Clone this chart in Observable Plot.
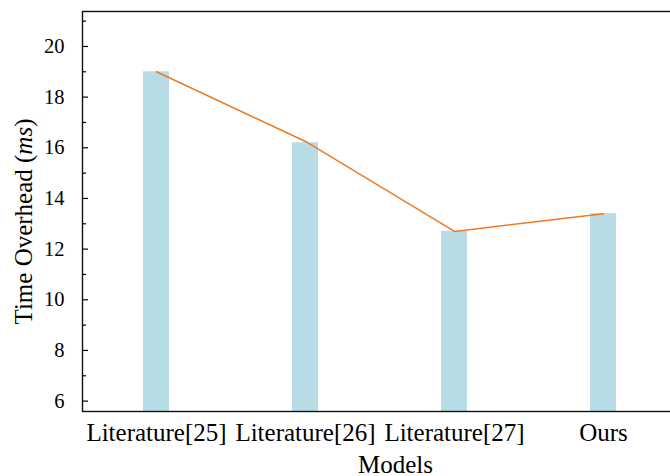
<!DOCTYPE html>
<html>
<head>
<meta charset="utf-8">
<script src="https://cdn.jsdelivr.net/npm/d3@7"></script>
<script src="https://cdn.jsdelivr.net/npm/@observablehq/plot@0.6"></script>
<style>
  html, body { margin: 0; padding: 0; background: #fff; }
</style>
</head>
<body>
<div id="chart"></div>
<script>
const models = ["Literature[25]", "Literature[26]", "Literature[27]", "Ours"];
const barValues = [19.0, 16.2, 12.7, 13.4];
const lineValues = [19.0, 16.25, 12.7, 13.4];
const majorTicks = [6, 8, 10, 12, 14, 16, 18, 20];
const minorTicks = [7, 9, 11, 13, 15, 17, 19, 21];
const yTitle = "Time Overhead (ms)";
const xTitle = "Models";

const bars = models.map((m, i) => ({model: m, value: barValues[i]}));
const linePts = models.map((m, i) => ({model: m, value: lineValues[i]}));

const chart = Plot.plot({
  width: 670,
  height: 476,
  marginLeft: 82,
  marginRight: -8,
  marginTop: 11,
  marginBottom: 65,
  style: {fontFamily: "'Liberation Serif', 'Times New Roman', serif", fontSize: "24px", background: "#fff", color: "#000"},
  x: {type: "band", domain: models, paddingInner: 0.825, paddingOuter: 0.41, align: 0.5, label: null},
  y: {domain: [5.59, 21.38], nice: false, label: null},
  marks: [
    Plot.barY(bars, {x: "model", y: "value", fill: "#b7dce6", clip: true}),
    Plot.line(linePts, {x: "model", y: "value", stroke: "#ef7a1f", strokeWidth: 1.5}),
    Plot.frame({stroke: "#111", strokeWidth: 1.4}),
    Plot.axisY(majorTicks, {anchor: "left", tickSize: -6, tickPadding: 24, fontSize: 20.5, stroke: "#000", strokeWidth: 1.2, fill: "#000"}),
    Plot.axisY(minorTicks.filter(t => t < 21.38), {anchor: "left", tickSize: -4, text: null, stroke: "#000", strokeWidth: 1.2}),
    Plot.axisX({anchor: "bottom", tickSize: 0, tickPadding: 12, fontSize: 25, fill: "#000"}),
    Plot.text([yTitle], {frameAnchor: "left", rotate: -90, dx: -51, dy: 10, lineAnchor: "bottom", textAnchor: "middle", fontSize: 25, fill: "#000"}),
    Plot.text([xTitle], {frameAnchor: "bottom", dx: 15, dy: 61, lineAnchor: "bottom", textAnchor: "middle", fontSize: 25, fill: "#000"})
  ]
});

// italicize the unit "ms" in the y title
d3.select(chart).selectAll("text").each(function() {
  const t = d3.select(this);
  if (t.text() === yTitle) {
    t.text(null);
    t.append("tspan").text("Time Overhead (");
    t.append("tspan").attr("font-style", "italic").text("ms");
    t.append("tspan").text(")");
  }
});

document.getElementById("chart").appendChild(chart);
</script>
</body>
</html>
